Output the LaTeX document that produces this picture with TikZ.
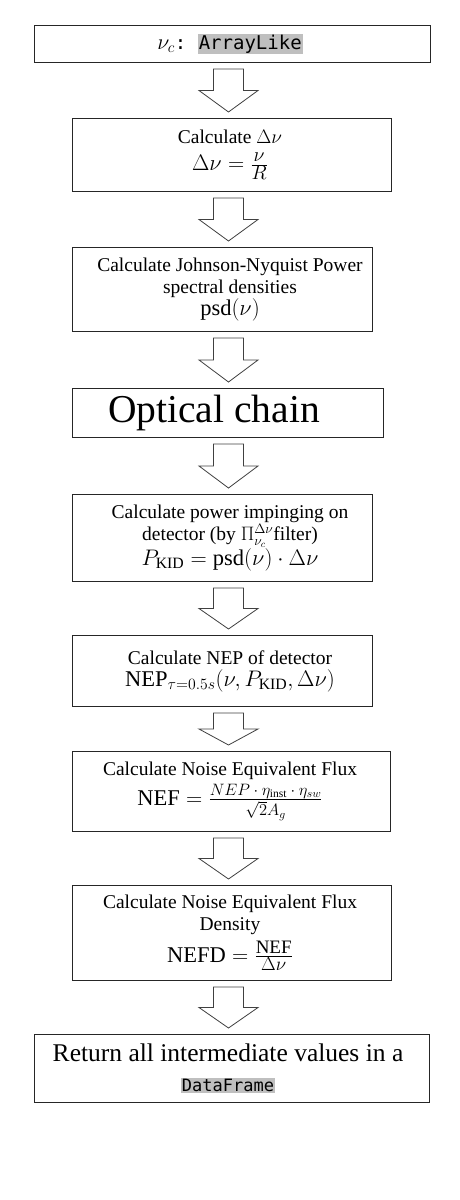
\documentclass[tikz,border=0pt]{standalone}
\usepackage{fix-cm}
\usepackage{amsmath}
\usepackage{fontspec}
\setmainfont{Liberation Serif}
\setmonofont{DejaVu Sans Mono}
\usepackage{tikz}
\usetikzlibrary{calc}

\definecolor{hlgray}{RGB}{191,191,191}
\newcommand{\hl}[1]{{\setlength{\fboxsep}{1pt}\colorbox{hlgray}{\texttt{#1}}}}
\newcommand{\txtsize}{\fontsize{19.5}{22}\selectfont}
\newcommand{\eqsize}{\fontsize{22.5}{27}\selectfont}
\newcommand{\optsize}{\fontsize{39.5}{44}\selectfont}
\newcommand{\retsize}{\fontsize{25.5}{30}\selectfont}
% fraction with numerator and denominator at a given size
\newcommand{\sfrac}[3]{\frac{\text{\fontsize{#1}{#1}\selectfont$#2$}}{\text{\fontsize{#1}{#1}\selectfont$#3$}}}

\def\ax{228.5pt}
\def\sw{15pt}
\def\hw{29.5pt}
\newcommand{\blockarrow}[2]{%
  \draw[blockarrow] let \p1=(#1.south), \p2=(#2.north), \n1={(\y1+\y2)/2} in
    ({\ax-\sw},{\y1-6pt}) -- ({\ax+\sw},{\y1-6pt}) -- ({\ax+\sw},\n1) -- ({\ax+\hw},\n1)
    -- (\ax,{\y2+6pt}) -- ({\ax-\hw},\n1) -- ({\ax-\sw},\n1) -- cycle;}

\tikzset{
  box/.style={draw=black!85, line width=1pt, anchor=north west, inner sep=0pt},
  txt/.style={align=center, inner sep=0pt, font=\txtsize},
  blockarrow/.style={draw=black!75, line width=0.8pt, line join=miter, fill=white}
}

\begin{document}
\begin{tikzpicture}[x=1pt, y=-1pt]
	\useasboundingbox (0,0) rectangle (460,1200);
	\coordinate (col) at (230,0);

	\node[box, minimum width=396pt, minimum height=37pt] (in) at (34,25) {};
	\node[box, minimum width=319pt, minimum height=73pt] (dnu) at (72,118) {};
	\node[box, minimum width=300pt, minimum height=84pt] (psd) at (72,247) {};
	\node[box, minimum width=311pt, minimum height=49pt] (opt) at (72,388) {};
	\node[box, minimum width=300pt, minimum height=87pt] (pkid) at (72,494) {};
	\node[box, minimum width=300pt, minimum height=71pt] (nep) at (72,635) {};
	\node[box, minimum width=318pt, minimum height=80pt] (nef) at (72,751) {};
	\node[box, minimum width=319pt, minimum height=95pt] (nefd) at (72,885) {};
	\node[box, minimum width=395pt, minimum height=68pt] (out) at (34,1034) {};

	\node[txt, font=\fontsize{19}{24}\selectfont] (in-t) at (in.center -| col)
		{{\fontsize{22}{24}\selectfont$\nu_c$}\texttt{: }\hl{ArrayLike}};
	\node[txt] (dnu-t) at (dnu.center -| col)
		{Calculate $\Delta\nu$\\[5pt] {\eqsize $\Delta\nu = \sfrac{20}{\nu}{R}$}};
	\node[txt] (psd-t) at (psd.center -| col)
		{Calculate Johnson-Nyquist Power\\ spectral densities\\ {\eqsize $\text{psd}(\nu)$}};
	\node[txt, font=\optsize, xshift=-16pt] (opt-t) at (opt.center -| col)
		{Optical chain};
	\node[txt] (pkid-t) at (pkid.center -| col)
		{Calculate power impinging on\\ detector (by $\Pi_{\nu_c}^{\Delta\nu}$filter)\\
		 {\eqsize $P_{\text{KID}} = \text{psd}(\nu)\cdot\Delta\nu$}};
	\node[txt] (nep-t) at (nep.center -| col)
		{Calculate NEP of detector\\ {\eqsize $\text{NEP}_{\tau=0.5s}(\nu, P_{\text{KID}}, \Delta\nu)$}};
	\node[txt] (nef-t) at (nef.center -| col)
		{Calculate Noise Equivalent Flux\\[3pt]
		 {\eqsize $\text{NEF} = \sfrac{16.5}{NEP\cdot\eta_{\text{inst}}\cdot\eta_{sw}}{\sqrt{2}A_g}$}};
	\node[txt] (nefd-t) at (nefd.center -| col)
		{Calculate Noise Equivalent Flux\\ Density\\[5pt]
		 {\eqsize $\text{NEFD} = \sfrac{19}{\text{NEF}}{\Delta\nu}$}};
	\node[txt, font=\retsize, xshift=-2pt] (out-t) at (out.center -| col)
		{Return all intermediate values in a\\ {\fontsize{17}{20}\selectfont\hl{DataFrame}}};

	\blockarrow{in}{dnu}
	\blockarrow{dnu}{psd}
	\blockarrow{psd}{opt}
	\blockarrow{opt}{pkid}
	\blockarrow{pkid}{nep}
	\blockarrow{nep}{nef}
	\blockarrow{nef}{nefd}
	\blockarrow{nefd}{out}
\end{tikzpicture}
\end{document}
